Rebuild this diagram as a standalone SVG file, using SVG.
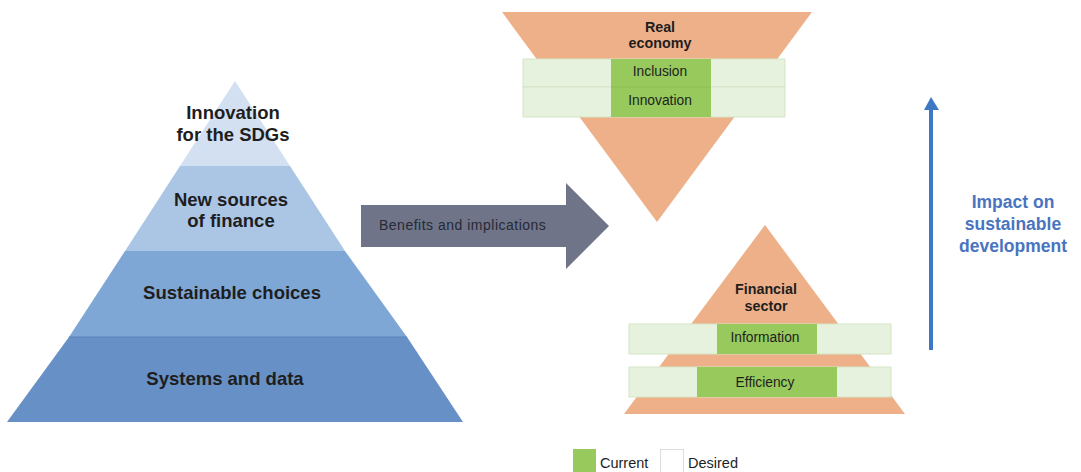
<svg xmlns="http://www.w3.org/2000/svg" width="1081" height="472" viewBox="0 0 1081 472">
<style>
.pt{font-family:"Liberation Sans",Arial,sans-serif;font-weight:bold;font-size:18.5px;fill:#1e1e1e;text-anchor:middle}
.ot{font-family:"Liberation Sans",Arial,sans-serif;font-weight:bold;font-size:14.3px;fill:#1e1e1e;text-anchor:middle}
.bt{font-family:"Liberation Sans",Arial,sans-serif;font-size:13.8px;fill:#1e1e1e;text-anchor:middle}
.lt{font-family:"Liberation Sans",Arial,sans-serif;font-size:14.5px;fill:#1e1e1e}
.org{fill:#edb089}
.des{fill:#e7f2de;stroke:#d3e5c5;stroke-width:1}
.cur{fill:#97c95c}
</style>
<rect width="1081" height="472" fill="#ffffff"/>
<g id="pyramid">
  <polygon points="235,81 290,166 180,166" fill="#d3e0f1"/>
  <polygon points="180,166 290,166 345,251 125,251" fill="#abc5e5"/>
  <polygon points="125,251 345,251 407,337 69,337" fill="#7fa7d6"/>
  <polygon points="69,337 407,337 463,422 7,422" fill="#6690c6"/>
  <line x1="69" y1="337" x2="407" y2="337" stroke="#5a84b8" stroke-width="1"/>
  <text class="pt" x="233" y="119">Innovation</text>
  <text class="pt" x="233" y="141">for the SDGs</text>
  <text class="pt" x="231" y="206">New sources</text>
  <text class="pt" x="231" y="227">of finance</text>
  <text class="pt" x="232" y="299">Sustainable choices</text>
  <text class="pt" x="225" y="385">Systems and data</text>
</g>
<g id="benefits-arrow">
  <polygon points="361,205 566,205 566,183 609,226 566,269 566,247 361,247" fill="#6f7488"/>
  <text x="379" y="230" font-family="'Liberation Sans',Arial,sans-serif" font-size="14px" letter-spacing="0.5" fill="#262a36">Benefits and implications</text>
</g>
<g id="real-economy">
  <polygon class="org" points="502,12 812,12 657,222"/>
  <text class="ot" x="660" y="32">Real</text>
  <text class="ot" x="660" y="48">economy</text>
  <rect class="des" x="523" y="59" width="262" height="28"/>
  <rect class="des" x="523" y="87" width="262" height="30"/>
  <rect class="cur" x="611" y="59" width="100" height="58"/>
  <line x1="611" y1="87" x2="711" y2="87" stroke="#8dbf55" stroke-width="1"/>
  <text class="bt" x="660" y="76">Inclusion</text>
  <text class="bt" x="660" y="105">Innovation</text>
</g>
<g id="financial-sector">
  <polygon class="org" points="765,225 905,414 624,414"/>
  <text class="ot" x="766" y="294">Financial</text>
  <text class="ot" x="766" y="311">sector</text>
  <rect class="des" x="629" y="324" width="262" height="30"/>
  <rect class="cur" x="717" y="324" width="100" height="30"/>
  <text class="bt" x="765" y="342">Information</text>
  <rect class="des" x="629" y="367" width="262" height="30"/>
  <rect class="cur" x="697" y="367" width="140" height="30"/>
  <text class="bt" x="765" y="387">Efficiency</text>
</g>
<g id="connectors">
  <line x1="931" y1="350" x2="931" y2="106" stroke="#3f78c2" stroke-width="4"/>
  <polygon points="931,97 939,110 924,110" fill="#3f78c2"/>
</g>
<g id="impact-label">
  <text x="1013" y="208" font-family="'Liberation Sans',Arial,sans-serif" font-weight="bold" font-size="17.5px" fill="#4a74c0" text-anchor="middle">Impact on</text>
  <text x="1013" y="230" font-family="'Liberation Sans',Arial,sans-serif" font-weight="bold" font-size="17.5px" fill="#4a74c0" text-anchor="middle">sustainable</text>
  <text x="1013" y="252" font-family="'Liberation Sans',Arial,sans-serif" font-weight="bold" font-size="17.5px" fill="#4a74c0" text-anchor="middle">development</text>
</g>
<g id="legend">
  <rect class="cur" x="573" y="449" width="23" height="23"/>
  <text class="lt" x="600" y="468">Current</text>
  <rect x="660.5" y="449.5" width="23" height="23" fill="#ffffff" stroke="#dcdcdc" stroke-width="1"/>
  <text class="lt" x="688" y="468">Desired</text>
</g>
</svg>
